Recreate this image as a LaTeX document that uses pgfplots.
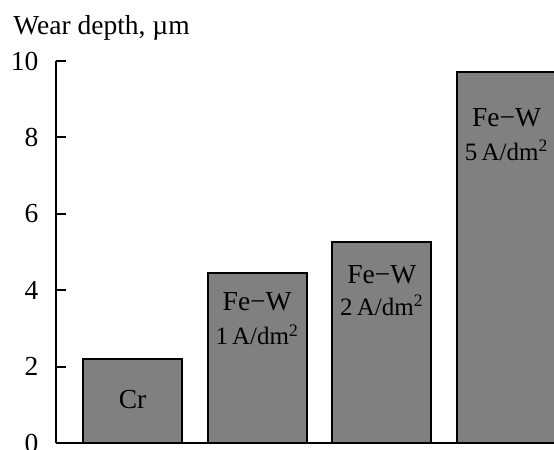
\documentclass[border=0pt]{standalone}
\usepackage{fontspec}
\setmainfont{Liberation Serif}
\usepackage{pgfplots}
\pgfplotsset{compat=1.18}
\definecolor{bargray}{RGB}{128,128,128}
\begin{document}
\fontsize{13.75}{16}\selectfont
\begin{tikzpicture}
\path[use as bounding box, clip] (-28pt,-3.5pt) rectangle (249pt,221.5pt);
\begin{axis}[
  scale only axis,
  width=249pt, height=191pt,
  xmin=-0.6135, xmax=3.38,
  ymin=0, ymax=10,
  axis x line=bottom, axis y line=left,
  axis line style={-, line width=1pt},
  xtick=\empty,
  ytick={0,2,4,6,8,10},
  tick align=inside,
  major tick length=5pt,
  tick style={line width=1pt, black},
  yticklabel style={xshift=-4.0pt, font=\fontsize{13.75}{16}\selectfont},
  /pgf/number format/assume math mode=true,
  ybar, bar width=49.5pt,
]
\addplot[fill=bargray, draw=black, line width=1pt] coordinates {(0,2.2) (1,4.45) (2,5.25) (3,9.7)};
\node at (axis cs:0,1.13) {Cr};
\node at (axis cs:1,3.69) {Fe−W};
\node at (axis cs:1,2.83) {\fontsize{12.5}{14}\selectfont 1\,A/dm\textsuperscript{2}};
\node at (axis cs:2,4.40) {Fe−W};
\node at (axis cs:2,3.61) {\fontsize{12.5}{14}\selectfont 2\,A/dm\textsuperscript{2}};
\node at (axis cs:3,8.51) {Fe−W};
\node at (axis cs:3,7.67) {\fontsize{12.5}{14}\selectfont 5\,A/dm\textsuperscript{2}};
\end{axis}
\node[anchor=base west, inner sep=0pt] at (-21.5pt,204pt) {Wear depth, µm};
\end{tikzpicture}
\end{document}
